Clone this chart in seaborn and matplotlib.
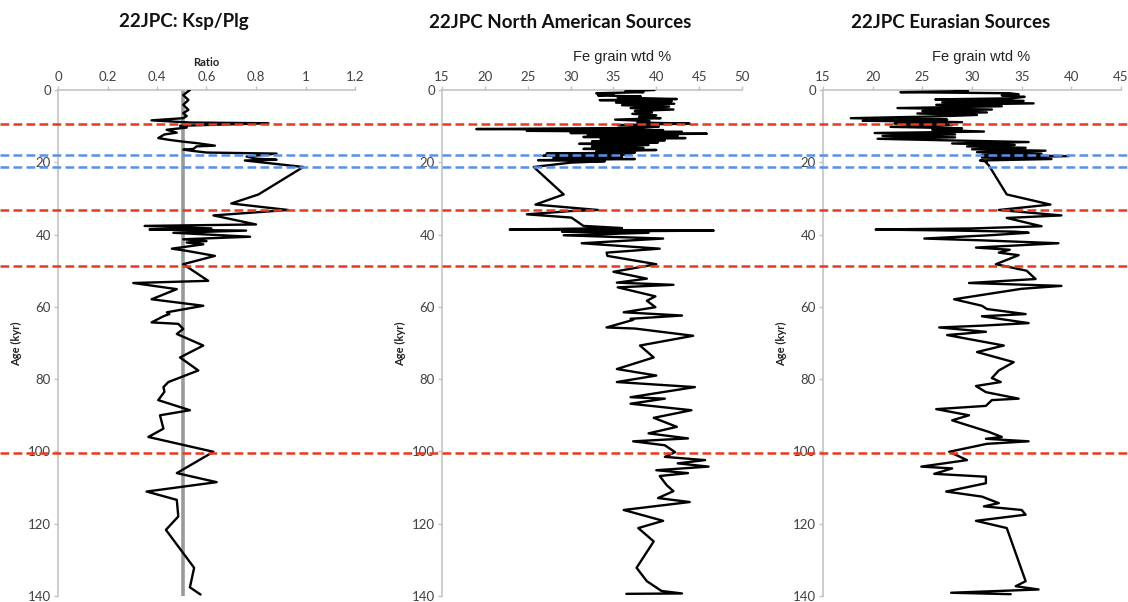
import matplotlib
matplotlib.use("Agg")
import matplotlib.pyplot as plt
import seaborn as sns
import numpy as np
import pandas as pd

# ---------------- data ----------------
ksp_age = [0, 1.4, 2.75, 4.1, 5.5, 6.4, 7.2, 7.8, 8.4, 9.0, 9.2, 9.9, 10.4, 11.0, 11.8, 12.3,
           13.3, 13.8, 14.3, 14.7, 15.4, 15.6, 16.3, 16.5, 16.9, 17.3, 17.6, 18.4, 19.0, 19.3,
           19.5, 21.3, 28.9, 31.4, 33.2, 34.7, 37.2, 37.6, 38.3, 38.6, 38.9, 39.5, 40.6, 41.3,
           41.8, 42.2, 42.7, 43.9, 44.5, 45.9, 48.2, 52.8, 53.4, 55.1, 57.9, 59.7, 61.5, 62.0,
           62.6, 64.3, 64.7, 66.1, 67.5, 70.7, 74.0, 77.6, 80.8, 82.2, 83.5, 85.8, 88.6, 90.0,
           93.7, 96.0, 100.1, 106.0, 108.5, 111.1, 113.4, 118.0, 121.7, 132.2, 137.6, 139.6]
ksp_ratio = [0.533, 0.506, 0.527, 0.506, 0.527, 0.506, 0.52, 0.506, 0.378, 0.533, 0.85, 0.493,
             0.52, 0.439, 0.48, 0.43, 0.405, 0.45, 0.506, 0.56, 0.634, 0.56, 0.547, 0.506, 0.55,
             0.60, 0.883, 0.762, 0.80, 0.883, 0.755, 0.991, 0.81, 0.70, 0.93, 0.628, 0.80, 0.35,
             0.62, 0.37, 0.76, 0.466, 0.776, 0.506, 0.60, 0.52, 0.587, 0.46, 0.52, 0.634, 0.506,
             0.607, 0.304, 0.48, 0.378, 0.587, 0.44, 0.45, 0.426, 0.378, 0.486, 0.506, 0.48,
             0.587, 0.493, 0.567, 0.446, 0.426, 0.43, 0.405, 0.533, 0.412, 0.426, 0.365, 0.628,
             0.48, 0.641, 0.358, 0.48, 0.486, 0.436, 0.55, 0.533, 0.576]

na_age = [0.0, 0.3, 0.6, 0.9, 1.2, 1.5, 1.8, 2.1, 2.5, 2.8, 3.1, 3.5, 3.8, 4.2, 4.6, 5.0, 5.4,
          5.8, 6.2, 6.6, 7.0, 7.4, 7.8, 8.2, 8.6, 9.0, 9.3, 9.7, 10.1, 10.5, 10.8, 11.1, 11.3,
          11.6, 11.9, 12.1, 12.4, 12.7, 13.0, 13.3, 13.6, 13.9, 14.2, 14.5, 14.9, 15.2, 15.6,
          16.0, 16.3, 16.6, 17.0, 17.3, 17.6, 17.9, 18.2, 18.5, 18.8, 19.1, 19.4, 19.7, 20.1,
          21.3, 28.9, 31.7, 33.2, 33.5, 34.4, 35.3, 37.6, 38.2, 38.6, 38.9, 39.2, 39.5, 40.2,
          41.1, 42.4, 43.9, 45.0, 45.9, 48.2, 50.3, 52.2, 53.3, 53.9, 54.6, 57.1, 58.3, 60.1,
          61.5, 62.4, 63.3, 63.6, 65.7, 66.0, 68.0, 70.7, 74.0, 77.2, 79.0, 80.8, 82.2, 85.0,
          85.4, 86.8, 88.6, 90.7, 93.2, 95.0, 96.4, 97.2, 98.3, 100.2, 101.5, 102.4, 103.3,
          104.2, 105.2, 106.0, 106.8, 109.3, 111.0, 112.9, 114.0, 116.2, 119.2, 121.2, 124.9,
          132.2, 135.9, 138.6, 139.3, 139.4]
na_fe = [39.8, 36.4, 38.5, 33.0, 35.0, 33.2, 38.2, 35.5, 42.4, 33.4, 41.8, 35.3, 42.1, 36.0,
         41.5, 37.0, 42.0, 37.5, 39.5, 37.2, 40.0, 38.0, 40.5, 35.2, 39.2, 37.8, 43.9, 35.5,
         40.3, 38.0, 19.0, 40.8, 24.9, 43.0, 30.0, 45.9, 32.0, 42.5, 31.5, 43.4, 33.5, 41.0,
         32.5, 40.2, 31.0, 39.1, 32.5, 38.5, 31.5, 40.0, 33.0, 37.5, 27.2, 37.0, 26.8, 36.0,
         28.0, 37.5, 26.2, 34.0, 30.0, 25.7, 29.2, 25.9, 33.2, 30.0, 24.9, 30.1, 31.5, 36.0,
         22.9, 46.7, 29.0, 39.1, 29.2, 40.8, 31.3, 40.4, 34.2, 34.3, 40.0, 35.0, 38.9, 35.4,
         42.0, 35.5, 39.9, 38.9, 39.9, 36.2, 43.0, 37.0, 37.3, 34.2, 37.5, 44.3, 38.1, 39.7,
         35.4, 40.0, 35.4, 44.5, 37.0, 41.0, 37.0, 44.1, 39.7, 42.4, 39.1, 43.7, 37.3, 41.0,
         42.2, 41.0, 45.7, 42.5, 46.1, 40.0, 43.7, 40.4, 41.2, 42.0, 40.2, 43.9, 36.2, 40.8,
         37.9, 39.7, 37.7, 38.9, 40.6, 43.0, 36.5]

eu_age = [0.0, 0.3, 0.6, 0.9, 1.2, 1.5, 1.9, 2.3, 2.6, 3.0, 3.4, 3.7, 4.1, 4.5, 5.0, 5.4, 5.8,
          6.2, 6.5, 6.9, 7.3, 7.8, 8.2, 8.5, 8.9, 9.3, 9.7, 10.2, 10.6, 11.0, 11.5, 11.9, 12.3,
          12.7, 13.1, 13.5, 13.9, 14.4, 14.8, 15.2, 15.6, 16.0, 16.4, 16.8, 17.2, 17.6, 18.0,
          18.3, 18.7, 19.1, 19.5, 19.8, 20.0, 20.9, 28.9, 31.7, 33.2, 34.7, 35.4, 37.7, 38.3,
          38.6, 38.9, 39.2, 39.5, 40.2, 41.1, 41.6, 42.4, 43.6, 44.2, 45.0, 45.7, 48.2, 50.0,
          52.3, 53.4, 54.2, 55.0, 57.9, 59.7, 60.6, 62.0, 62.6, 64.5, 65.2, 65.7, 66.9, 67.8,
          70.7, 72.5, 75.3, 77.6, 79.7, 80.8, 81.9, 83.6, 85.4, 85.8, 87.4, 88.3, 90.0, 91.4,
          94.6, 96.0, 96.5, 97.2, 97.9, 100.1, 102.4, 104.2, 104.7, 106.2, 107.0, 108.8, 111.1,
          112.5, 114.3, 115.2, 116.2, 117.5, 119.2, 121.2, 135.9, 137.3, 138.2, 139.1, 139.5]
eu_fe = [28.2, 29.6, 22.8, 33.8, 34.7, 33.0, 35.3, 34.0, 26.3, 35.2, 27.0, 36.2, 26.4, 33.0,
         22.5, 32.0, 25.0, 31.5, 24.5, 30.5, 26.5, 17.8, 27.5, 19.0, 29.0, 22.2, 28.0, 21.8,
         29.0, 26.0, 31.2, 20.2, 28.3, 21.0, 28.3, 20.5, 27.0, 35.7, 28.0, 34.3, 29.5, 35.4,
         30.0, 37.4, 30.5, 37.0, 31.0, 39.7, 31.0, 38.0, 30.8, 31.5, 31.4, 31.7, 33.5, 37.9,
         32.7, 39.0, 33.5, 37.0, 30.0, 20.3, 28.5, 34.4, 35.7, 31.7, 25.2, 31.0, 38.7, 30.4,
         33.8, 32.7, 34.7, 32.4, 35.5, 36.4, 29.7, 39.0, 35.0, 28.2, 31.0, 31.5, 35.4, 31.0,
         35.7, 31.0, 26.7, 31.4, 27.5, 33.2, 30.5, 34.2, 32.7, 32.0, 32.9, 30.4, 31.4, 34.7,
         32.0, 31.4, 26.4, 29.7, 28.0, 31.7, 33.0, 31.4, 35.7, 31.5, 27.7, 29.5, 24.9, 28.0,
         26.2, 31.4, 31.4, 27.4, 31.0, 32.7, 31.2, 35.0, 35.4, 30.4, 33.5, 35.4, 34.4, 36.7,
         27.9, 33.9]

red_events = [9.4, 33.3, 48.8, 100.3]
blue_events = [17.9, 21.2]
ksp_reference = 0.505

titles = ["22JPC: Ksp/Plg", "22JPC North American Sources", "22JPC Eurasian Sources"]
xlabels = ["Ratio", "Fe grain wtd %", "Fe grain wtd %"]
xticks_list = [[0, 0.2, 0.4, 0.6, 0.8, 1.0, 1.2], list(range(15, 51, 5)), list(range(15, 46, 5))]
xtick_labels = [["0", "0.2", "0.4", "0.6", "0.8", "1", "1.2"],
                [str(v) for v in range(15, 51, 5)], [str(v) for v in range(15, 46, 5)]]
xlims = [(0, 1.2), (15, 50), (15, 45)]
yticks = list(range(0, 141, 20))

# ---------------- figure ----------------
sns.set_style("white")
plt.rcParams["font.family"] = ["Lato", "DejaVu Sans"]

W, H = 1128, 602
fig = plt.figure(figsize=(W / 100, H / 100), dpi=100)
top_px, bot_px = 90, 596
bottom = 1 - bot_px / H
height = (bot_px - top_px) / H
panels_px = [(58, 297), (442, 300), (823, 298)]
title_cx = [184, 560, 951]
xlabel_cx = [206, 622, 981]
xlabel_cy = [62, 57, 57]

series = [(ksp_ratio, ksp_age), (na_fe, na_age), (eu_fe, eu_age)]
axis_grey = "#c3c3c3"
text_grey = "#404040"

for i, ((xv, yv), (lp, wp)) in enumerate(zip(series, panels_px)):
    ax = fig.add_axes([lp / W, bottom, wp / W, height])
    df = pd.DataFrame({"value": xv, "age": yv})
    if i == 0:
        ax.axvline(ksp_reference, color="#9a9a9a", lw=2.6, zorder=1)
    sns.lineplot(data=df, x="value", y="age", sort=False, estimator=None, orient="y",
                 color="black", lw=1.7, ax=ax, zorder=3)
    ax.set_xlim(*xlims[i])
    ax.set_ylim(140, 0)
    ax.set_xticks(xticks_list[i])
    ax.set_xticklabels(xtick_labels[i])
    ax.set_yticks(yticks)
    ax.xaxis.tick_top()
    ax.set_xlabel("")
    ax.set_ylabel("")
    for s in ["right", "bottom"]:
        ax.spines[s].set_visible(False)
    for s in ["top", "left"]:
        ax.spines[s].set_visible(True)
        ax.spines[s].set_color(axis_grey)
        ax.spines[s].set_linewidth(1.2)
    ax.tick_params(axis="both", which="major", direction="out", length=3, width=1,
                   color=axis_grey, labelsize=9.5, labelcolor=text_grey, pad=2,
                   top=True, left=True, bottom=False, right=False)
    ax.patch.set_alpha(0)

    fig.text(title_cx[i] / W, 1 - 22 / H, titles[i], ha="center", va="center",
             fontsize=13.5, fontweight="bold", color="#111111")
    if i == 0:
        fig.text(xlabel_cx[i] / W, 1 - xlabel_cy[i] / H, xlabels[i], ha="center", va="center",
                 fontsize=8, fontweight="bold", color="#222222")
    else:
        fig.text(xlabel_cx[i] / W, 1 - xlabel_cy[i] / H, xlabels[i], ha="center", va="center",
                 fontsize=10.5, family=["Liberation Sans", "DejaVu Sans"], color="#222222")
    fig.text((lp - 41) / W, 1 - 344 / H, "Age (kyr)", rotation=90, ha="center", va="center",
             fontsize=8, fontweight="bold", color="#222222")

# overlay for dashed event lines spanning the full width
ov = fig.add_axes([0, bottom, 1, height], zorder=10)
ov.set_xlim(0, 1)
ov.set_ylim(140, 0)
ov.axis("off")
ov.patch.set_alpha(0)
for y in red_events:
    ov.axhline(y, color="#e8391f", lw=1.8, ls=(0, (3.5, 1.7)))
for y in blue_events:
    ov.axhline(y, color="#5b8fe8", lw=1.8, ls=(0, (3.5, 1.7)))

fig.savefig("out.png", dpi=100)
